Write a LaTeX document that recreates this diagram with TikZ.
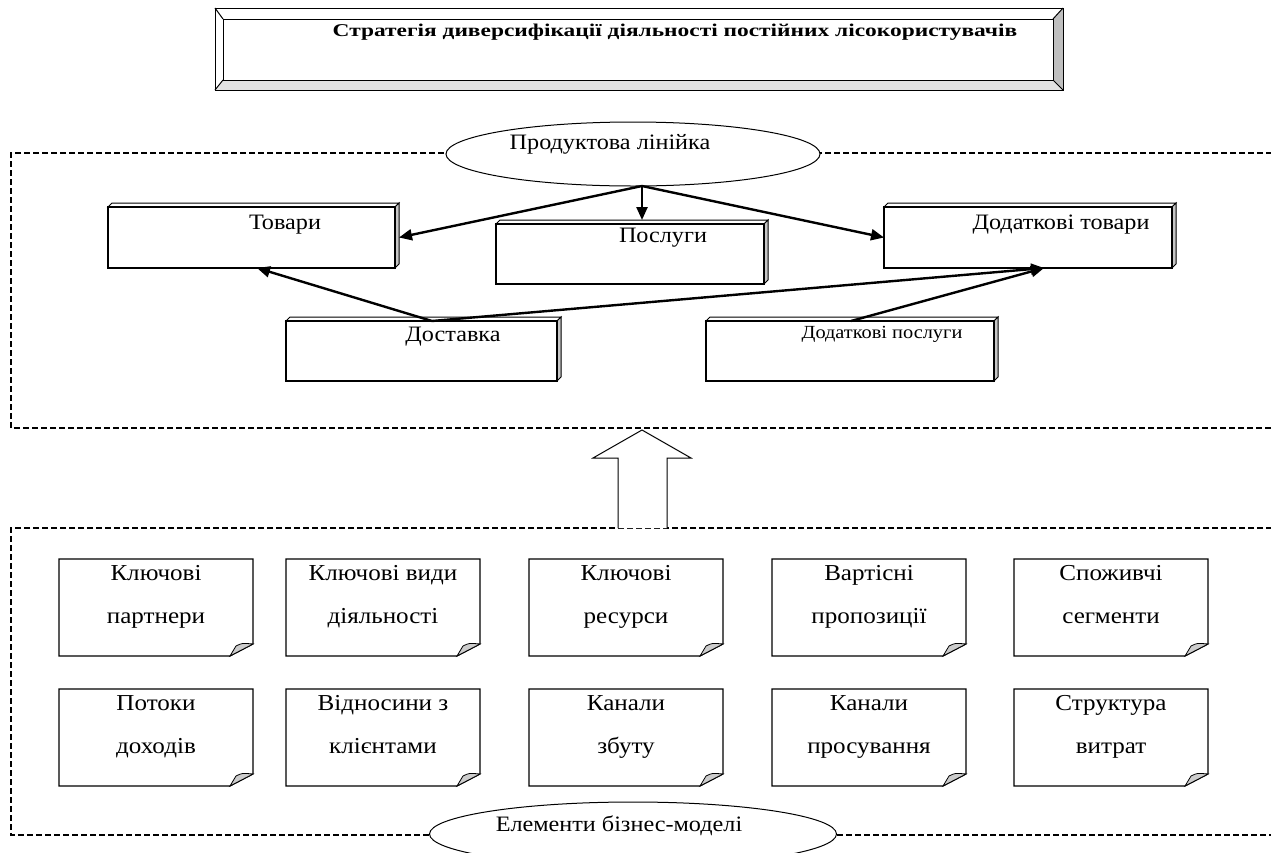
\documentclass[tikz,border=0pt]{standalone}
\usepackage{fontspec}
\setmainfont{Liberation Serif}[FakeStretch=1.1]
\newfontfamily\titlefont{Liberation Serif}[FakeStretch=1.3]
\usetikzlibrary{arrows.meta,shapes.geometric}
\newcommand\fa{\fontsize{22}{26}\selectfont}
\newcommand\fb{\fontsize{22.8}{43}\selectfont}
\newcommand\fc{\fontsize{18.5}{22}\selectfont}
\newcommand\ft{\titlefont\fontsize{18}{21}\selectfont\bfseries}
\newcommand\tdbox[5]{%
  \path[fill=white,draw,line width=1pt] (#2,#3) -- (#2+4,#3-4) -- (#4+4,#3-4) -- (#4,#3) -- cycle;
  \path[fill=gray!45,draw,line width=1pt] (#4,#3) -- (#4+4,#3-4) -- (#4+4,#5-4) -- (#4,#5) -- cycle;
  \node[draw,line width=1.2pt,fill=white,minimum width=#4-#2,minimum height=#5-#3,anchor=north west,inner sep=0pt,outer sep=0pt] (#1) at (#2,#3) {};
}
\newcommand\notebox[4]{%
  \node[minimum width=194,minimum height=97,anchor=north west,inner sep=0pt,outer sep=0pt] (#1) at (#2,#3) {};
  \draw[line width=1.2pt,fill=white] (#1.north west) -- (#1.north east) -- ([yshift=12pt]#1.south east) -- ([xshift=-23pt]#1.south east) -- (#1.south west) -- cycle;
  \draw[line width=0.8pt,fill=gray!40] ([xshift=-23pt]#1.south east) -- ([xshift=-17pt,yshift=10pt]#1.south east) .. controls ([xshift=-11pt,yshift=13pt]#1.south east) .. ([yshift=12pt]#1.south east) -- cycle;
  \node[font=\fb,align=center,inner sep=0pt] (#1t) at ([yshift=-34pt]#1.north) {#4};
}
\begin{document}
\begin{tikzpicture}[x=1pt,y=-1pt,
  dashbox/.style={dash pattern=on 6pt off 3pt,line width=1.3pt},
  arr/.style={line width=2.4pt,-{Triangle[length=13pt,width=11pt]}},
  lbl/.style={inner sep=0pt,anchor=base},
  oval/.style={ellipse,draw,line width=1pt,fill=white,inner sep=0pt}]
\useasboundingbox (0,0) rectangle (1271,852);
\clip (0,0) rectangle (1271,852);
\fill[white] (0,0) rectangle (1271,852);

% title bevel box
\fill[white] (215,8) rectangle (1063,90);
\fill[gray!22] (215,90) -- (223,80) -- (1053,80) -- (1063,90) -- cycle;
\fill[gray!50] (1063,8) -- (1053,19) -- (1053,80) -- (1063,90) -- cycle;
\draw[line width=1pt] (215,8) rectangle (1063,90);
\draw[line width=1pt] (215,8) -- (223,19) (1063,8) -- (1053,19) (215,90) -- (223,80) (1063,90) -- (1053,80);
\node[draw,line width=1pt,minimum width=830,minimum height=61,anchor=north west,inner sep=0pt,outer sep=0pt] (title) at (223,19) {};
\node[lbl,font=\ft] (titlet) at (675,36) {Стратегія диверсифікації діяльності постійних лісокористувачів};

% dashed frames
\draw[dashbox] (1290,153) -- (11,153) -- (11,428) -- (1290,428);
\draw[dashbox] (1290,528) -- (11,528) -- (11,835) -- (1290,835);

% ovals
\node[oval,minimum width=374,minimum height=64] (prod) at (633,154) {};
\node[lbl,font=\fa] (prodt) at (610,149) {Продуктова лінійка};
\node[oval,minimum width=407,minimum height=64] (elem) at (633,834) {};
\node[lbl,font=\fa] (elemt) at (619,831) {Елементи бізнес-моделі};

% 3D boxes
\tdbox{tovary}{108}{207}{395}{268}
\node[lbl,font=\fa] (tovaryt) at (285,229) {Товари};
\tdbox{poslugy}{496}{224}{764}{284}
\node[lbl,font=\fa] (poslugyt) at (663,242) {Послуги};
\tdbox{dodtov}{884}{207}{1172}{268}
\node[lbl,font=\fa] (dodtovt) at (1061,229) {Додаткові товари};
\tdbox{dostavka}{286}{321}{557}{381}
\node[lbl,font=\fa] (dostavkat) at (453,341) {Доставка};
\tdbox{dodposl}{706}{321}{994}{381}
\node[lbl,font=\fc] (dodposlt) at (882,338) {Додаткові послуги};

% arrows
\coordinate (src) at (642,186);
\draw[arr] (src) -- ([xshift=4pt]tovary.east);
\draw[arr] (src) -- ([yshift=4pt]src |- poslugy.north);
\draw[arr] (src) -- (dodtov.west);
\draw[arr] ([xshift=10.5pt]dostavka.north) -- ([xshift=5.5pt]tovary.south);
\draw[arr] ([xshift=10.5pt]dostavka.north) -- ([xshift=16pt]dodtov.south);
\draw[arr] ([xshift=1pt]dodposl.north) -- ([xshift=16pt]dodtov.south);

% block arrow
\draw[line width=1pt,fill=white] (618,528) -- (618,458) -- (593,458) -- (642,430) -- (691,458) -- (667,458) -- (667,528);

% note boxes
\notebox{n1}{59}{559}{\strut Ключові\\\strut партнери}
\notebox{n2}{286}{559}{\strut Ключові види\\\strut діяльності}
\notebox{n3}{529}{559}{\strut Ключові\\\strut ресурси}
\notebox{n4}{772}{559}{\strut Вартісні\\\strut пропозиції}
\notebox{n5}{1014}{559}{\strut Споживчі\\\strut сегменти}
\notebox{n6}{59}{689}{\strut Потоки\\\strut доходів}
\notebox{n7}{286}{689}{\strut Відносини з\\\strut клієнтами}
\notebox{n8}{529}{689}{\strut Канали\\\strut збуту}
\notebox{n9}{772}{689}{\strut Канали\\\strut просування}
\notebox{n10}{1014}{689}{\strut Структура\\\strut витрат}
\end{tikzpicture}
\end{document}
